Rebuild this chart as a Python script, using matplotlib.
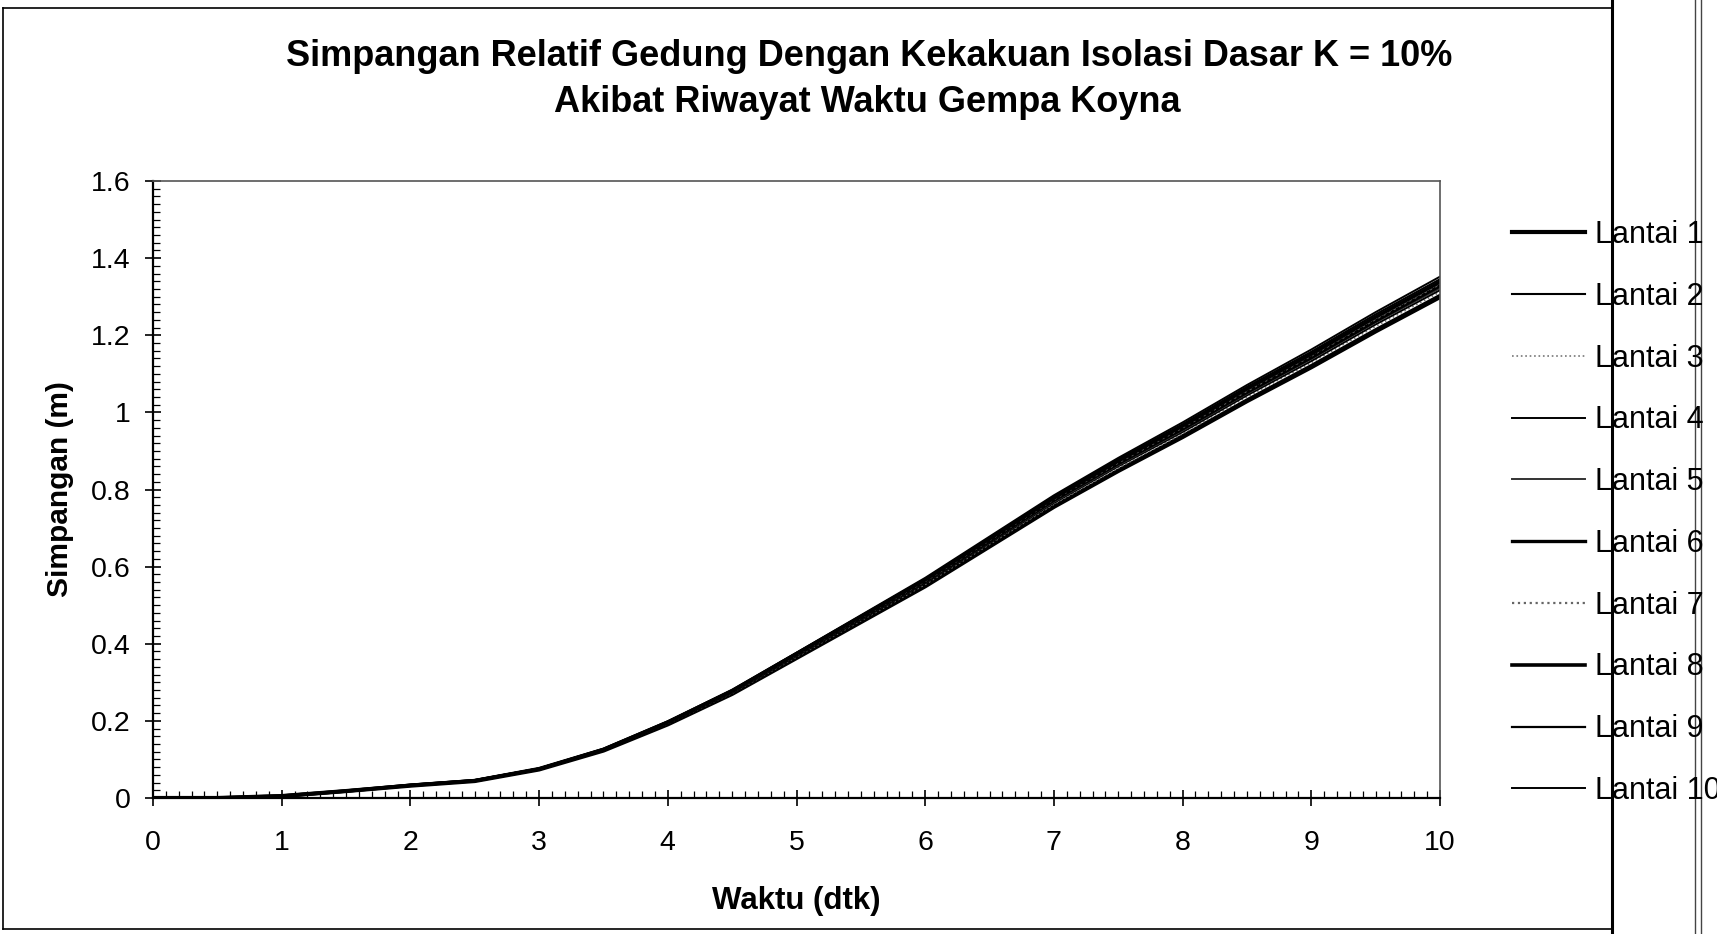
import matplotlib
matplotlib.use("Agg")
import matplotlib.pyplot as plt
from matplotlib.lines import Line2D
from matplotlib.ticker import MultipleLocator

plt.rcParams['font.family'] = ['Liberation Sans', 'DejaVu Sans']

# ---- data ----
waktu = [0.0, 0.5, 1.0, 1.5, 2.0, 2.5, 3.0, 3.5, 4.0, 4.5, 5.0,
         5.5, 6.0, 6.5, 7.0, 7.5, 8.0, 8.5, 9.0, 9.5, 10.0]

lantai_1 = [0, 0, 0.005, 0.018, 0.032, 0.044, 0.074, 0.123, 0.191, 0.270, 0.363,
            0.456, 0.549, 0.652, 0.755, 0.848, 0.936, 1.029, 1.117, 1.210, 1.299]
lantai_2 = [0, 0, 0.005, 0.018, 0.033, 0.044, 0.074, 0.123, 0.192, 0.271, 0.364,
            0.458, 0.552, 0.655, 0.758, 0.852, 0.941, 1.034, 1.123, 1.216, 1.305]
lantai_3 = [0, 0, 0.005, 0.018, 0.033, 0.045, 0.074, 0.124, 0.193, 0.272, 0.366,
            0.460, 0.554, 0.658, 0.762, 0.856, 0.945, 1.040, 1.129, 1.223, 1.312]
lantai_4 = [0, 0, 0.005, 0.018, 0.033, 0.045, 0.075, 0.124, 0.194, 0.273, 0.368,
            0.462, 0.557, 0.661, 0.765, 0.860, 0.949, 1.044, 1.133, 1.228, 1.317]
lantai_5 = [0, 0, 0.005, 0.018, 0.033, 0.045, 0.075, 0.125, 0.195, 0.274, 0.369,
            0.464, 0.559, 0.664, 0.768, 0.863, 0.953, 1.048, 1.138, 1.233, 1.322]
lantai_6 = [0, 0, 0.005, 0.018, 0.033, 0.045, 0.075, 0.125, 0.195, 0.276, 0.371,
            0.466, 0.561, 0.666, 0.772, 0.867, 0.957, 1.052, 1.142, 1.237, 1.328]
lantai_7 = [0, 0, 0.005, 0.018, 0.033, 0.045, 0.075, 0.126, 0.196, 0.277, 0.372,
            0.468, 0.563, 0.669, 0.775, 0.870, 0.961, 1.056, 1.147, 1.242, 1.333]
lantai_8 = [0, 0, 0.005, 0.018, 0.033, 0.045, 0.076, 0.126, 0.197, 0.278, 0.374,
            0.470, 0.566, 0.672, 0.778, 0.874, 0.965, 1.061, 1.151, 1.247, 1.338]
lantai_9 = [0, 0, 0.005, 0.018, 0.034, 0.046, 0.076, 0.127, 0.198, 0.279, 0.376,
            0.472, 0.568, 0.675, 0.782, 0.878, 0.969, 1.066, 1.157, 1.254, 1.345]
lantai_10 = [0, 0, 0.005, 0.018, 0.034, 0.046, 0.077, 0.128, 0.199, 0.281, 0.377,
             0.474, 0.571, 0.678, 0.785, 0.882, 0.974, 1.071, 1.163, 1.260, 1.352]

labels = ['Lantai 1', 'Lantai 2', 'Lantai 3', 'Lantai 4', 'Lantai 5',
          'Lantai 6', 'Lantai 7', 'Lantai 8', 'Lantai 9', 'Lantai 10']
series = [lantai_1, lantai_2, lantai_3, lantai_4, lantai_5,
          lantai_6, lantai_7, lantai_8, lantai_9, lantai_10]

x_ticks = [0, 1, 2, 3, 4, 5, 6, 7, 8, 9, 10]
y_ticks = [0, 0.2, 0.4, 0.6, 0.8, 1.0, 1.2, 1.4, 1.6]
y_ticklabels = ['0', '0.2', '0.4', '0.6', '0.8', '1', '1.2', '1.4', '1.6']

# ---- styles ----
styles = [
    dict(color='black', lw=3.0, ls='-'),
    dict(color='black', lw=1.5, ls='-'),
    dict(color='#777777', lw=1.2, ls=':'),
    dict(color='black', lw=1.4, ls='-'),
    dict(color='#333333', lw=1.4, ls='-'),
    dict(color='black', lw=2.4, ls='-'),
    dict(color='#666666', lw=1.6, ls=':'),
    dict(color='black', lw=2.6, ls='-'),
    dict(color='black', lw=1.6, ls='-'),
    dict(color='black', lw=1.4, ls='-'),
]

W, H = 1717, 934
fig = plt.figure(figsize=(W / 100, H / 100), dpi=100)
fig.patch.set_facecolor('white')

ax = fig.add_axes([153 / W, 1 - 798 / H, (1440 - 153) / W, (798 - 181) / H])

for vals, lab, st in zip(series, labels, styles):
    ax.plot(waktu, vals, label=lab, **st)

ax.set_xlim(0, 10)
ax.set_ylim(0, 1.6)
ax.set_xticks(x_ticks)
ax.set_xticklabels([str(t) for t in x_ticks])
ax.set_yticks(y_ticks)
ax.set_yticklabels(y_ticklabels)
ax.xaxis.set_minor_locator(MultipleLocator(0.1))
ax.yaxis.set_minor_locator(MultipleLocator(0.02))
ax.tick_params(which='major', direction='inout', length=12, width=1.2,
               labelsize=20.5, colors='black')
ax.tick_params(axis='x', which='major', pad=17)
ax.tick_params(axis='y', which='major', pad=10)
ax.tick_params(which='minor', direction='in', length=5, width=0.9)

for side in ['left', 'bottom']:
    ax.spines[side].set_linewidth(1.6)
    ax.spines[side].set_color('black')
for side in ['top', 'right']:
    ax.spines[side].set_linewidth(1.2)
    ax.spines[side].set_color('#555555')
    ax.spines[side].set_linestyle((0, (4, 1)))

ax.set_xlabel('Waktu (dtk)', fontsize=22.5, fontweight='bold', labelpad=22)
ax.set_ylabel('Simpangan (m)', fontsize=21.5, fontweight='bold', labelpad=12)

fig.text(869 / W, 1 - 56 / H,
         'Simpangan Relatif Gedung Dengan Kekakuan Isolasi Dasar K = 10%',
         ha='center', va='center', fontsize=26, fontweight='bold')
fig.text(867 / W, 1 - 103 / H, 'Akibat Riwayat Waktu Gempa Koyna',
         ha='center', va='center', fontsize=26, fontweight='bold')

handles = [Line2D([], [], **st) for st in styles]
leg = fig.legend(handles, labels, loc='upper left',
                 bbox_to_anchor=(1512 / W, 1 - 220 / H),
                 frameon=False, fontsize=22, handlelength=2.4,
                 handletextpad=0.3, labelspacing=1.04, borderpad=0,
                 borderaxespad=0)

# scanned page frame lines
fig.add_artist(Line2D([3 / W, 3 / W], [1 - 8 / H, 1 - 929 / H], color='black', lw=1.2))
fig.add_artist(Line2D([3 / W, 1612 / W], [1 - 8 / H, 1 - 8 / H], color='black', lw=1.2))
fig.add_artist(Line2D([3 / W, 1612 / W], [1 - 929 / H, 1 - 929 / H], color='black', lw=1.2))
fig.add_artist(Line2D([1612 / W, 1612 / W], [1.0, 0.0], color='black', lw=2.2))
fig.add_artist(Line2D([1695 / W, 1695 / W], [1.0, 0.0], color='#444444', lw=1.0))
fig.add_artist(Line2D([1701 / W, 1701 / W], [1.0, 0.0], color='#444444', lw=1.0))

fig.savefig('out.png', dpi=100, facecolor='white')
